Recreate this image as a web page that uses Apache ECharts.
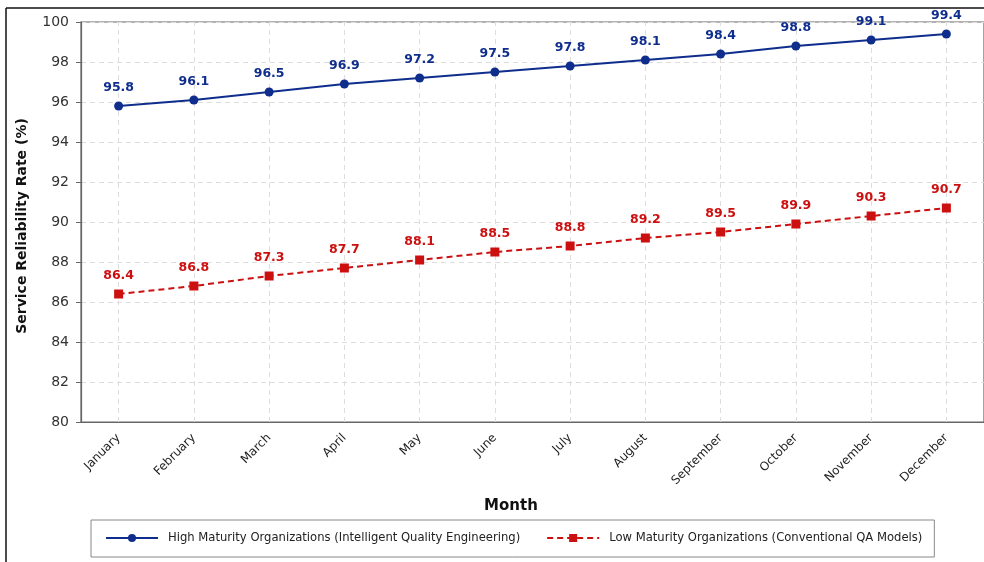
<!DOCTYPE html>
<html>
<head>
<meta charset="utf-8">
<script src="https://cdn.jsdelivr.net/npm/echarts@6/dist/echarts.min.js"></script>
<style>
  html, body { margin: 0; padding: 0; background: #ffffff; }
  #chart { width: 984px; height: 562px; }
</style>
</head>
<body>
<div id="chart"></div>
<script>
// Monthly service reliability by organisation maturity
const months = ['January', 'February', 'March', 'April', 'May', 'June',
                'July', 'August', 'September', 'October', 'November', 'December'];
const highMaturity = [95.8, 96.1, 96.5, 96.9, 97.2, 97.5, 97.8, 98.1, 98.4, 98.8, 99.1, 99.4];
const lowMaturity = [86.4, 86.8, 87.3, 87.7, 88.1, 88.5, 88.8, 89.2, 89.5, 89.9, 90.3, 90.7];
const yTicks = [80, 82, 84, 86, 88, 90, 92, 94, 96, 98, 100];

const highName = 'High Maturity Organizations (Intelligent Quality Engineering)';
const lowName = 'Low Maturity Organizations (Conventional QA Models)';

const BLUE = '#0f2d8c';
const RED = '#cc1010';
const FONT = 'DejaVu Sans';

const chart = echarts.init(document.getElementById('chart'), null, { renderer: 'canvas' });

// vertical dashed guides at each month
const monthGuides = months.map(m => ({ xAxis: m }));

chart.setOption({
  animation: false,
  backgroundColor: '#ffffff',
  textStyle: { fontFamily: FONT },
  grid: {
    left: 81, top: 22, right: -3, bottom: 140,
    show: true, borderColor: '#666666', borderWidth: 1.2, backgroundColor: 'transparent'
  },
  legend: {
    left: 91, top: 520,
    padding: [12, 12, 13, 14],
    borderColor: '#888888', borderWidth: 1,
    itemWidth: 52, itemHeight: 10, itemGap: 26,
    textStyle: { fontFamily: FONT, fontSize: 11.6, color: '#222', padding: [0, 0, 0, 5] },
    data: [highName, lowName]
  },
  xAxis: {
    type: 'category',
    data: months,
    boundaryGap: true,
    axisLine: { lineStyle: { color: '#666666', width: 1.2 } },
    axisTick: { alignWithLabel: true, length: 5, lineStyle: { color: '#666666' } },
    axisLabel: { rotate: 45, fontSize: 12, color: '#222', margin: 14, fontFamily: FONT, interval: 0 },
    splitLine: { show: false }
  },
  yAxis: {
    type: 'value',
    min: yTicks[0], max: yTicks[yTicks.length - 1], interval: 2,
    name: 'Service Reliability Rate (%)',
    nameLocation: 'middle', nameGap: 52,
    nameTextStyle: { fontSize: 14, fontWeight: 'bold', color: '#111', fontFamily: FONT, padding: [0, 8, 0, 0] },
    axisLine: { show: true, lineStyle: { color: '#666666', width: 1.2 } },
    axisTick: { show: true, length: 5, lineStyle: { color: '#666666' } },
    axisLabel: { fontSize: 14, color: '#333', margin: 12, fontFamily: FONT },
    splitLine: { lineStyle: { color: '#dddddd', type: [5, 4], width: 1 } }
  },
  graphic: [
    {
      type: 'text', z: 10,
      x: 511, y: 506,
      style: { text: 'Month', font: 'bold 15px "DejaVu Sans"', fill: '#111', align: 'center', verticalAlign: 'middle' }
    },
    { type: 'line', z: 20, shape: { x1: 6, y1: 8, x2: 6, y2: 562 }, style: { stroke: '#111', lineWidth: 1.5 } },
    { type: 'line', z: 20, shape: { x1: 6, y1: 8, x2: 984, y2: 8 }, style: { stroke: '#111', lineWidth: 1.5 } }
  ],
  series: [
    {
      name: highName,
      type: 'line',
      data: highMaturity,
      symbol: 'circle', symbolSize: 9,
      lineStyle: { color: BLUE, width: 2 },
      itemStyle: { color: BLUE },
      label: {
        show: true, position: 'top', distance: 7,
        color: BLUE, fontWeight: 'bold', fontSize: 12.5, fontFamily: FONT,
        formatter: p => p.value.toFixed(1)
      },
      markLine: {
        silent: true, symbol: 'none', label: { show: false },
        lineStyle: { color: '#dddddd', type: [5, 4], width: 1 },
        z: 0,
        data: monthGuides
      },
      z: 5
    },
    {
      name: lowName,
      type: 'line',
      data: lowMaturity,
      symbol: 'rect', symbolSize: 9,
      lineStyle: { color: RED, width: 2, type: [6, 4] },
      itemStyle: { color: RED },
      label: {
        show: true, position: 'top', distance: 7,
        color: RED, fontWeight: 'bold', fontSize: 12.5, fontFamily: FONT,
        formatter: p => p.value.toFixed(1)
      },
      z: 5
    }
  ]
});
</script>
</body>
</html>
